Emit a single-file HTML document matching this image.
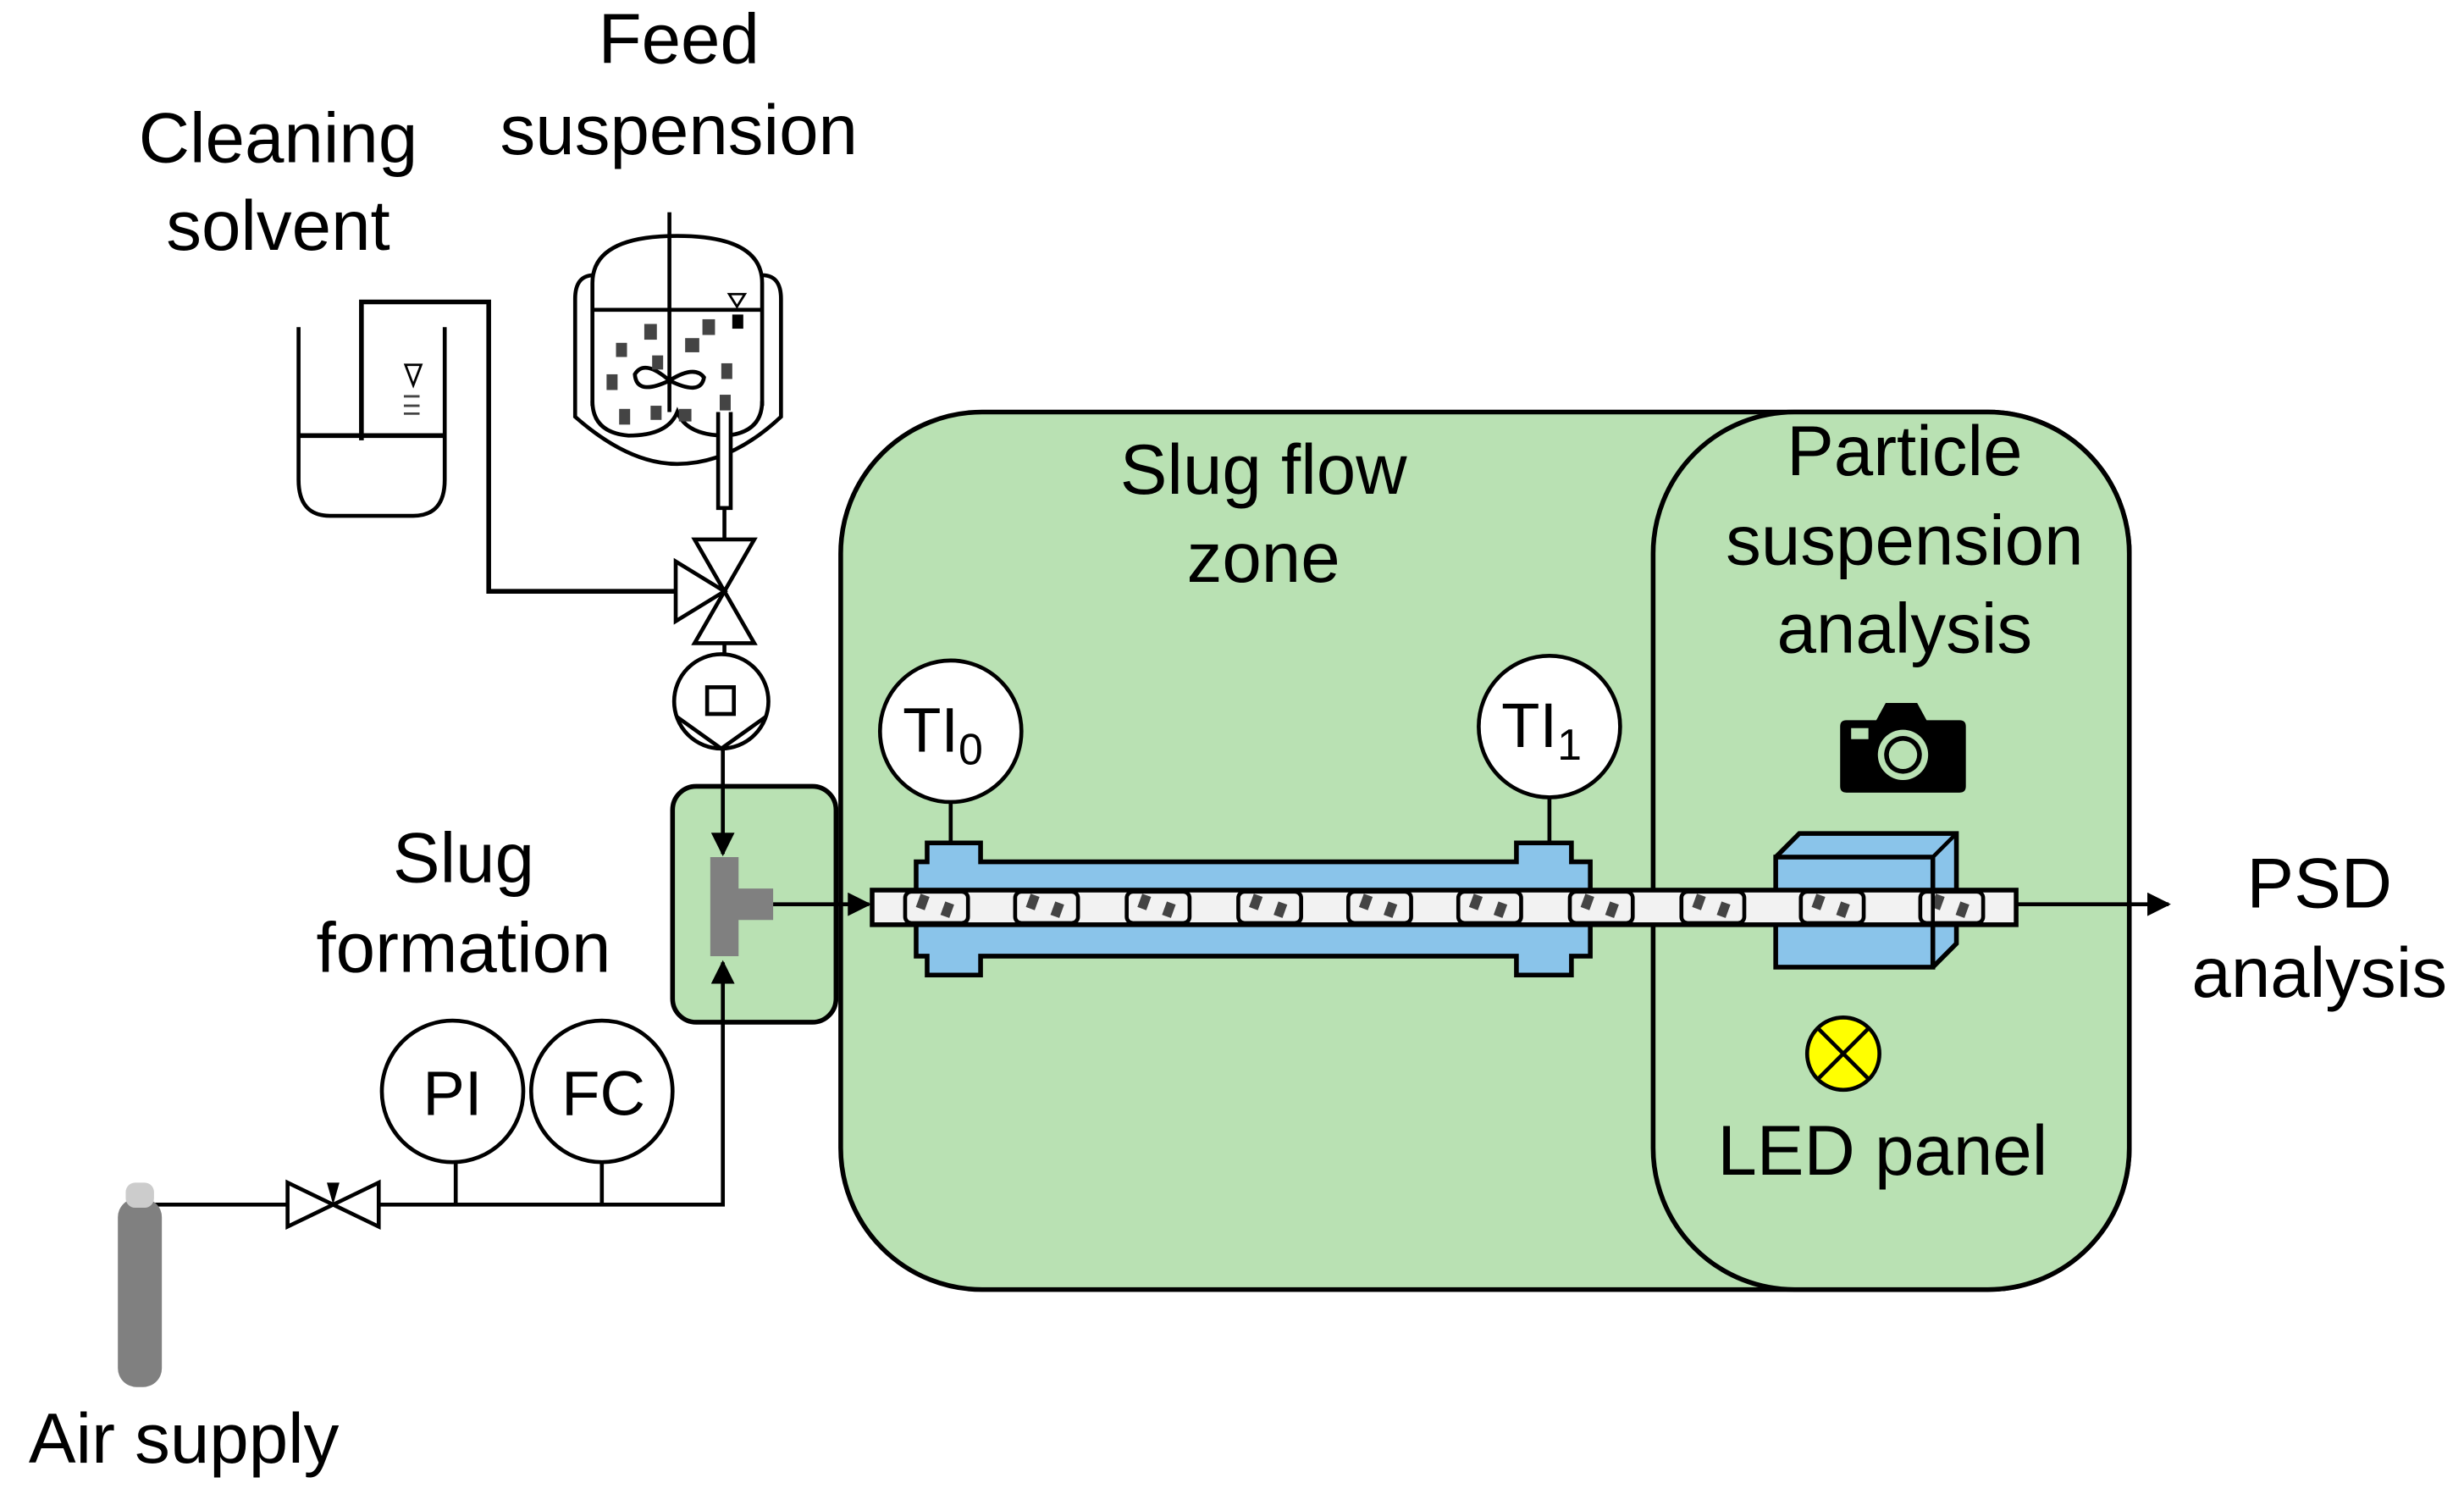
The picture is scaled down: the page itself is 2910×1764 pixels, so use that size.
<!DOCTYPE html>
<html><head><meta charset="utf-8"><style>html,body{margin:0;padding:0;background:#fff}svg{display:block}text{font-family:"Liberation Sans",Arial,sans-serif;fill:#000}</style></head>
<body>
<svg width="2910" height="1764" viewBox="0 0 1568 950" preserveAspectRatio="none" xmlns="http://www.w3.org/2000/svg">
<defs>
<marker id="ah" viewBox="0 0 10 10" refX="9" refY="5" markerWidth="15" markerHeight="15" orient="auto" markerUnits="userSpaceOnUse"><path d="M0,0L10,5L0,10z" fill="#000"/></marker>
<g id="slug"><rect x="-20" y="-10" width="40" height="20" rx="4" fill="#f2f2f2" stroke="#000" stroke-width="2.5"/><rect x="-12" y="-8" width="6" height="9" fill="#444" transform="rotate(20 -9 -3)"/><rect x="4" y="-3" width="6" height="9" fill="#444" transform="rotate(20 7 1)"/></g>
</defs>
<rect x="535" y="262" width="820" height="558" rx="90" fill="#b9e1b3" stroke="#000" stroke-width="3"/>
<rect x="1052" y="262" width="303" height="558" rx="90" fill="#b9e1b3" stroke="#000" stroke-width="3"/>
<rect x="428" y="500" width="104" height="150" rx="15" fill="#b9e1b3" stroke="#000" stroke-width="3"/>
<g font-size="45" text-anchor="middle">
<text x="432" y="40">Feed</text>
<text x="432" y="98">suspension</text>
<text x="177" y="103">Cleaning</text>
<text x="177" y="159">solvent</text>
<text x="295" y="561">Slug</text>
<text x="295" y="618">formation</text>
<text x="804" y="314">Slug flow</text>
<text x="804" y="370">zone</text>
<text x="1212" y="302">Particle</text>
<text x="1212" y="359">suspension</text>
<text x="1212" y="415">analysis</text>
<text x="1198" y="747">LED panel</text>
<text x="1476" y="577">PSD</text>
<text x="1476" y="634">analysis</text>
<text x="117" y="930">Air supply</text>
</g>
<path d="M190,208 V305 Q190,328 210,328 H263 Q283,328 283,305 V208" fill="none" stroke="#000" stroke-width="2.5"/>
<line x1="190" y1="277" x2="283" y2="277" stroke="#000" stroke-width="3"/>
<path d="M258,232 L268,232 L263,245z" fill="#fff" stroke="#000" stroke-width="1.5"/>
<path d="M257,252h10M257,258h10M257,263h10" stroke="#444" stroke-width="1.5"/>
<path d="M230,280 V192 H311 V376 H430" fill="none" stroke="#000" stroke-width="3"/>
<path d="M378,175 Q366,175 366,190 V265 Q400,295 431,295 Q465,295 497,265 V190 Q497,175 485,175" fill="none" stroke="#000" stroke-width="2.5"/>
<path d="M377,258 V180 Q377,150 431,150 Q485,150 485,180 V258" fill="none" stroke="#000" stroke-width="2.5"/>
<path d="M377,255 Q377,275 400,277 Q425,277 431,262 Q437,277 462,277 Q485,275 485,255" fill="none" stroke="#000" stroke-width="2.5"/>
<line x1="377" y1="197" x2="485" y2="197" stroke="#000" stroke-width="2.5"/>
<line x1="426" y1="135" x2="426" y2="262" stroke="#000" stroke-width="2.5"/>
<path d="M426,242 Q410,228 404,238 Q405,252 426,242 Q442,232 448,240 Q446,252 426,242" fill="none" stroke="#000" stroke-width="2.5"/>
<path d="M464,187 L474,187 L469,195z" fill="#fff" stroke="#000" stroke-width="1.5"/>
<rect x="466" y="200" width="7" height="9" fill="#000"/>
<g fill="#444"><rect x="410" y="206" width="8" height="10"/><rect x="447" y="203" width="8" height="10"/><rect x="392" y="218" width="7" height="9"/><rect x="436" y="215" width="9" height="9"/><rect x="415" y="226" width="7" height="9"/><rect x="459" y="231" width="7" height="10"/><rect x="386" y="238" width="7" height="10"/><rect x="458" y="251" width="7" height="10"/><rect x="394" y="260" width="7" height="10"/><rect x="414" y="258" width="7" height="9"/><rect x="432" y="260" width="8" height="8"/></g>
<path d="M457,262 V323 H465 V262" fill="#fff" stroke="#000" stroke-width="2.5"/>
<line x1="461" y1="323" x2="461" y2="343" stroke="#000" stroke-width="2.5"/>
<path d="M442,343 H480 L461,376 Z M442,409 H480 L461,376 Z M430,357 V395 L461,376 Z" fill="#fff" stroke="#000" stroke-width="2.5"/>
<line x1="461" y1="409" x2="461" y2="416" stroke="#000" stroke-width="2.5"/>
<circle cx="459" cy="446" r="30" fill="#fff" stroke="#000" stroke-width="2.5"/>
<path d="M431,456 L459,476 L487,456" fill="none" stroke="#000" stroke-width="2.5"/>
<rect x="450" y="437" width="17" height="17" fill="#fff" stroke="#000" stroke-width="2.5"/>
<line x1="460" y1="476" x2="460" y2="543" stroke="#000" stroke-width="2.5" marker-end="url(#ah)"/>
<path d="M452,545 H470 V565 H492 V585 H470 V608 H452 Z" fill="#808080"/>
<line x1="492" y1="575" x2="553" y2="575" stroke="#000" stroke-width="2.5" marker-end="url(#ah)"/>
<path d="M97,766 H460 V612" fill="none" stroke="#000" stroke-width="2.5" marker-end="url(#ah)"/>
<rect x="75" y="762" width="28" height="120" rx="12" fill="#808080"/>
<rect x="80" y="752" width="18" height="16" rx="6" fill="#ccc"/>
<path d="M183,752 V780 L212,766 Z M241,752 V780 L212,766 Z" fill="#fff" stroke="#000" stroke-width="2.5"/>
<path d="M208,752 L216,752 L212,766z" fill="#000"/>
<line x1="290" y1="739" x2="290" y2="766" stroke="#000" stroke-width="2.5"/>
<line x1="383" y1="739" x2="383" y2="766" stroke="#000" stroke-width="2.5"/>
<circle cx="288" cy="694" r="45" fill="#fff" stroke="#000" stroke-width="2.5"/>
<circle cx="383" cy="694" r="45" fill="#fff" stroke="#000" stroke-width="2.5"/>
<text x="288" y="709" font-size="40" text-anchor="middle">PI</text>
<text x="384" y="709" font-size="40" text-anchor="middle">FC</text>
<line x1="605" y1="510" x2="605" y2="537" stroke="#000" stroke-width="2.5"/>
<line x1="986" y1="507" x2="986" y2="537" stroke="#000" stroke-width="2.5"/>
<circle cx="605" cy="465" r="45" fill="#fff" stroke="#000" stroke-width="2.5"/>
<circle cx="986" cy="462" r="45" fill="#fff" stroke="#000" stroke-width="2.5"/>
<text x="600" y="478" font-size="40" text-anchor="middle">TI<tspan font-size="28" dy="8">0</tspan></text>
<text x="981" y="475" font-size="40" text-anchor="middle">TI<tspan font-size="28" dy="8">1</tspan></text>
<path d="M583,548 H590 V536 H624 V548 H965 V536 H1000 V548 H1012 V608 H1000 V620 H965 V608 H624 V620 H590 V608 H583 Z" fill="#8ac4ea" stroke="#000" stroke-width="3"/>
<path d="M1130,545 L1145,530 H1245 V600 L1230,615" fill="#8ac4ea" stroke="#000" stroke-width="3"/>
<rect x="1130" y="545" width="100" height="70" fill="#8ac4ea" stroke="#000" stroke-width="3"/>
<line x1="1230" y1="545" x2="1245" y2="530" stroke="#000" stroke-width="2.5"/>
<rect x="555" y="566" width="728" height="22" fill="#f2f2f2" stroke="#000" stroke-width="3"/>
<g transform="translate(0,577)">
<use href="#slug" x="596"/><use href="#slug" x="666"/><use href="#slug" x="737"/><use href="#slug" x="808"/><use href="#slug" x="878"/><use href="#slug" x="948"/><use href="#slug" x="1019"/><use href="#slug" x="1090"/><use href="#slug" x="1166"/><use href="#slug" x="1242"/>
</g>
<line x1="1230" y1="545" x2="1230" y2="615" stroke="#000" stroke-width="2.5"/>
<line x1="1283" y1="575" x2="1380" y2="575" stroke="#000" stroke-width="2.5" marker-end="url(#ah)"/>
<path d="M1175,458 H1194 L1200,447 H1220 L1226,458 H1247 Q1251,458 1251,462 V500 Q1251,504 1247,504 H1175 Q1171,504 1171,500 V462 Q1171,458 1175,458 Z" fill="#000"/>
<rect x="1178" y="463" width="11" height="7" fill="#b9e1b3"/>
<circle cx="1211" cy="480" r="16" fill="#b9e1b3"/>
<circle cx="1211" cy="480" r="12" fill="#000"/>
<circle cx="1211" cy="480" r="9" fill="#b9e1b3"/>
<circle cx="1173" cy="670" r="23" fill="#ffff00" stroke="#000" stroke-width="2.5"/>
<path d="M1157,654 L1189,686 M1189,654 L1157,686" stroke="#000" stroke-width="2.5"/>
</svg>
</body></html>
